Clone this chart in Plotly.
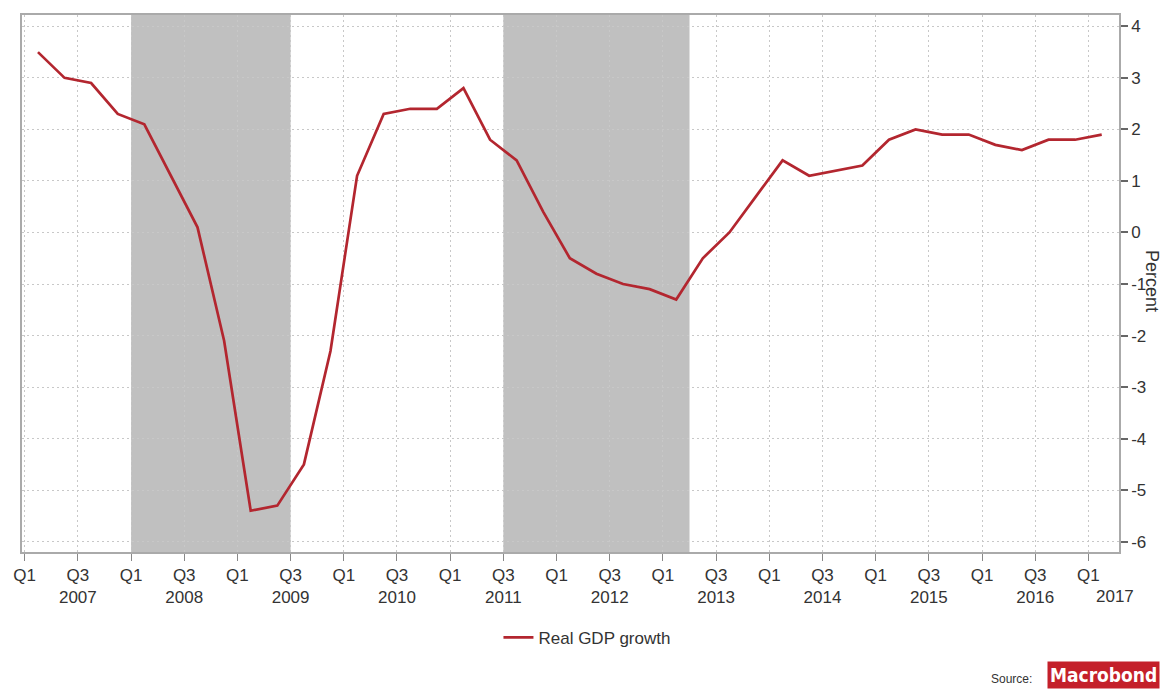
import plotly.graph_objects as go

# Quarterly data, 2007 Q1 .. 2017 Q1
start_year = 2007
gdp_growth = [3.5, 3.0, 2.9, 2.3, 2.1, 1.1, 0.1, -2.1, -5.4, -5.3, -4.5, -2.3,
              1.1, 2.3, 2.4, 2.4, 2.8, 1.8, 1.4, 0.4, -0.5, -0.8, -1.0, -1.1,
              -1.3, -0.5, 0.0, 0.7, 1.4, 1.1, 1.2, 1.3, 1.8, 2.0, 1.9, 1.9,
              1.7, 1.6, 1.8, 1.8, 1.9]
series_name = "Real GDP growth"

# Recession periods (quarter index from 2007 Q1, start inclusive, end exclusive)
recessions = [(4, 10), (18, 25)]

years = list(range(2007, 2018))
y_ticks = [4, 3, 2, 1, 0, -1, -2, -3, -4, -5, -6]

# x positions: quarter i plotted in the middle of the quarter
x_vals = [i + 0.5 for i in range(len(gdp_growth))]

tickvals, ticktext = [], []
for k, yr in enumerate(years):
    q1 = 4 * k
    q3 = 4 * k + 2
    if q1 <= 41:
        tickvals.append(q1)
        ticktext.append("Q1")
    if q3 <= 41:
        tickvals.append(q3)
        ticktext.append("Q3<br>" + str(yr))

font_main = "Liberation Sans, Arial, sans-serif"
txt_col = "#333333"
grid_dash = "2px,3px"

fig = go.Figure()
fig.add_trace(go.Scatter(
    x=x_vals, y=gdp_growth, mode="lines", name=series_name,
    line=dict(color="#b3262f", width=2.7),
))

for x0, x1 in recessions:
    fig.add_shape(type="rect", xref="x", yref="paper", x0=x0, x1=x1, y0=0, y1=1,
                  fillcolor="#c0c0c0", line=dict(width=0), layer="below")

fig.update_layout(
    width=1162, height=682,
    margin=dict(l=13, r=51, t=5, b=138),
    paper_bgcolor="white", plot_bgcolor="white",
    font=dict(family=font_main, size=16, color=txt_col),
    showlegend=True,
    legend=dict(orientation="h", x=0.515, xanchor="center", y=-0.16, yanchor="middle",
                font=dict(size=17, color=txt_col), itemwidth=30),
)

fig.update_xaxes(
    range=[-0.1, 41.15],
    tickmode="array", tickvals=tickvals, ticktext=ticktext,
    ticks="outside", ticklen=7, tickcolor="#888888",
    showgrid=True, gridcolor="#c8c8c8", griddash=grid_dash, gridwidth=1,
    showline=True, linecolor="#aaaaaa", linewidth=1.5, mirror=True,
    zeroline=False, tickfont=dict(size=17, color=txt_col),
)
fig.update_yaxes(
    range=[-6.2, 4.22], side="right",
    tickmode="array", tickvals=y_ticks, ticktext=[str(v) for v in y_ticks],
    ticks="outside", ticklen=7, tickcolor="#666666", tickwidth=2,
    showgrid=True, gridcolor="#c8c8c8", griddash=grid_dash, gridwidth=1,
    showline=True, linecolor="#aaaaaa", linewidth=1.5, mirror=True,
    zeroline=False, tickfont=dict(size=17, color=txt_col),
)

# Year label for 2017 (no Q3 tick inside range)
fig.add_annotation(x=41.0, xref="x", y=-0.061, yref="paper", yanchor="top",
                   text=str(years[-1]), showarrow=False,
                   font=dict(size=17, color=txt_col))

# Axis title
fig.add_annotation(x=(1161 - 21) / 1098, xref="paper", y=(552 - 280) / 539, yref="paper",
                   text="Percent", textangle=90, showarrow=False, xshift=3,
                   font=dict(size=18, color=txt_col))

# Source
fig.add_annotation(x=(1034 - 21) / 1098, xref="paper", y=(552 - 679) / 539, yref="paper",
                   xanchor="right", yanchor="middle", text="Source:", showarrow=False,
                   font=dict(size=12, color=txt_col))
fig.add_annotation(x=(1160 - 21) / 1098, xref="paper", y=(552 - 690) / 539, yref="paper",
                   xanchor="right", yanchor="bottom", text="<b>Macrobond</b>", showarrow=False,
                   bgcolor="#c4202a", borderpad=2,
                   font=dict(size=19, color="white",
                             family="Liberation Sans Narrow, DejaVu Sans Condensed, Arial Narrow, sans-serif"))

fig.write_html("out.html")
